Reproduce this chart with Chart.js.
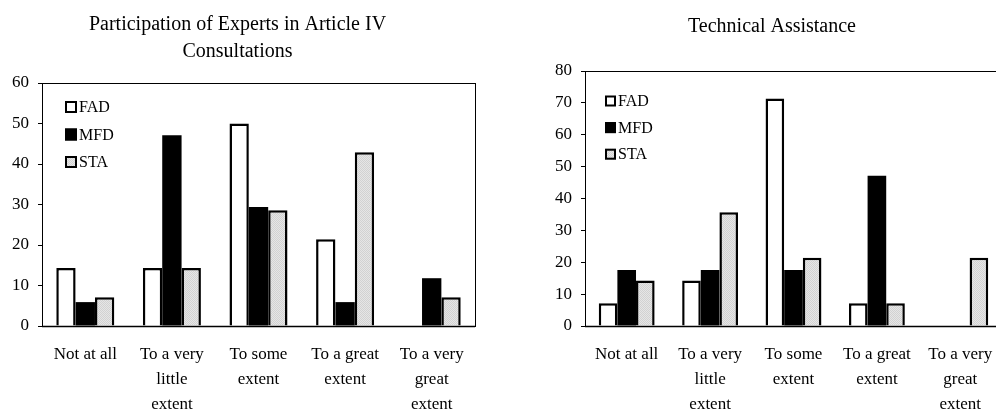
<!DOCTYPE html>
<html>
<head>
<meta charset="utf-8">
<script src="https://cdn.jsdelivr.net/npm/chart.js@4"></script>
<style>
  html, body { margin: 0; padding: 0; background: #fff; overflow: hidden; width: 996px; height: 409px; }
  canvas { position: absolute; top: 0; }
  #chartA { left: 0; }
  #chartB { left: 542px; }
</style>
</head>
<body>
<canvas id="chartA" width="476" height="409"></canvas>
<canvas id="chartB" width="462" height="409"></canvas>
<script>
// Response categories shared by both panels
const categories = [
  'Not at all',
  ['To a very', 'little', 'extent'],
  ['To some', 'extent'],
  ['To a great', 'extent'],
  ['To a very', 'great', 'extent']
];
const seriesNames = ['FAD', 'MFD', 'STA'];

// Participation of experts in Article IV consultations (percent of respondents)
const fadArticleIV = [14.3, 14.3, 50.0, 21.4, 0];
const mfdArticleIV = [5.9, 47.1, 29.4, 5.9, 11.8];
const staArticleIV = [7.1, 14.3, 28.6, 42.9, 7.1];

// Technical assistance (percent of respondents)
const fadTA = [7.1, 14.3, 71.4, 7.1, 0];
const mfdTA = [17.6, 17.6, 17.6, 47.1, 0];
const staTA = [14.3, 35.7, 21.4, 7.1, 21.4];

// Value-axis ticks
const yTicksArticleIV = [0, 10, 20, 30, 40, 50, 60];
const yTicksTA = [0, 10, 20, 30, 40, 50, 60, 70, 80];

const FONT = "'Liberation Serif', 'Times New Roman', serif";

// Fine stippled light-grey fill used for STA
function stipple() {
  const c = document.createElement('canvas');
  c.width = 2; c.height = 2;
  const g = c.getContext('2d');
  g.fillStyle = '#e6e6e6'; g.fillRect(0, 0, 2, 2);
  g.fillStyle = '#d2d2d2'; g.fillRect(0, 0, 1, 1); g.fillRect(1, 1, 1, 1);
  return g.createPattern(c, 'repeat');
}
const staFill = stipple();
const fills = ['#ffffff', '#000000', staFill];
// Solid black bars need no separate outline
const outlineWidths = [2.5, 0, 2.5];

// Box around the plotting area, drawn above the bars
const frame = {
  id: 'frame',
  afterDatasetsDraw(chart) {
    const a = chart.chartArea, ctx = chart.ctx;
    ctx.save();
    ctx.strokeStyle = '#000';
    ctx.lineWidth = 1;
    ctx.strokeRect(Math.round(a.left) + 0.5, Math.round(a.top) + 0.5,
                   Math.round(a.right - a.left), Math.round(a.bottom - a.top));
    ctx.lineWidth = 1.5;
    ctx.beginPath();
    ctx.moveTo(a.left, Math.round(a.bottom) + 0.5);
    ctx.lineTo(a.right, Math.round(a.bottom) + 0.5);
    ctx.stroke();
    ctx.restore();
  }
};

// Legend stacked in the upper-left corner of the plotting area
const insideLegend = {
  id: 'insideLegend',
  afterDraw(chart, args, o) {
    const a = chart.chartArea, ctx = chart.ctx;
    ctx.save();
    ctx.font = o.fontSize + 'px ' + FONT;
    ctx.textBaseline = 'middle';
    chart.data.datasets.forEach((ds, i) => {
      const x = a.left + o.x;
      const y = a.top + o.y + i * o.step;
      ctx.fillStyle = ds.backgroundColor;
      ctx.fillRect(x, y - o.box / 2, o.box, o.box);
      ctx.strokeStyle = '#000';
      ctx.lineWidth = 2;
      ctx.strokeRect(x + 1, y - o.box / 2 + 1, o.box - 2, o.box - 2);
      ctx.fillStyle = '#000';
      ctx.fillText(ds.label, x + o.box + 2, y + 1);
    });
    ctx.restore();
  }
};

function makeChart(id, title, titlePad, values, yTicks, yWidth, rightPad, legendOpts) {
  return new Chart(document.getElementById(id), {
    type: 'bar',
    data: {
      labels: categories,
      datasets: values.map((v, i) => ({
        label: seriesNames[i],
        data: v,
        backgroundColor: fills[i],
        borderColor: '#000',
        borderWidth: outlineWidths[i],
        borderSkipped: 'start',
        barPercentage: 1,
        categoryPercentage: 0.67
      }))
    },
    options: {
      responsive: false,
      animation: false,
      layout: { padding: { left: 0, right: rightPad, top: 0, bottom: 0 } },
      plugins: {
        legend: { display: false },
        tooltip: { enabled: false },
        title: {
          display: true,
          text: title,
          color: '#000',
          font: { family: FONT, size: 20, weight: 'normal', lineHeight: 1.35 },
          padding: titlePad
        },
        insideLegend: legendOpts
      },
      scales: {
        x: {
          grid: { display: false },
          border: { display: false },
          ticks: {
            color: '#000',
            font: { family: FONT, size: 17, lineHeight: 1.47 },
            padding: 8.5,
            maxRotation: 0,
            autoSkip: false
          },
          afterFit(s) { s.height = 83; }
        },
        y: {
          min: yTicks[0],
          max: yTicks[yTicks.length - 1],
          afterBuildTicks(s) { s.ticks = yTicks.map(v => ({ value: v })); },
          grid: { drawOnChartArea: false, drawTicks: true, tickLength: 4, color: '#000', lineWidth: 1 },
          border: { display: false },
          ticks: {
            color: '#000',
            font: { family: FONT, size: 17 },
            padding: 9
          },
          afterFit(s) { s.width = yWidth; }
        }
      }
    },
    plugins: [frame, insideLegend]
  });
}

makeChart('chartA',
  ['Participation of Experts in Article IV', 'Consultations'],
  { top: 11.5, bottom: 17.5 },
  [fadArticleIV, mfdArticleIV, staArticleIV],
  yTicksArticleIV, 42, 1,
  { x: 23, y: 24, step: 27.5, box: 12, fontSize: 16 });

makeChart('chartB',
  'Technical Assistance',
  { top: 13.5, bottom: 30.5 },
  [fadTA, mfdTA, staTA],
  yTicksTA, 43, 2,
  { x: 20, y: 30, step: 26.6, box: 11, fontSize: 16 });
</script>
</body>
</html>
